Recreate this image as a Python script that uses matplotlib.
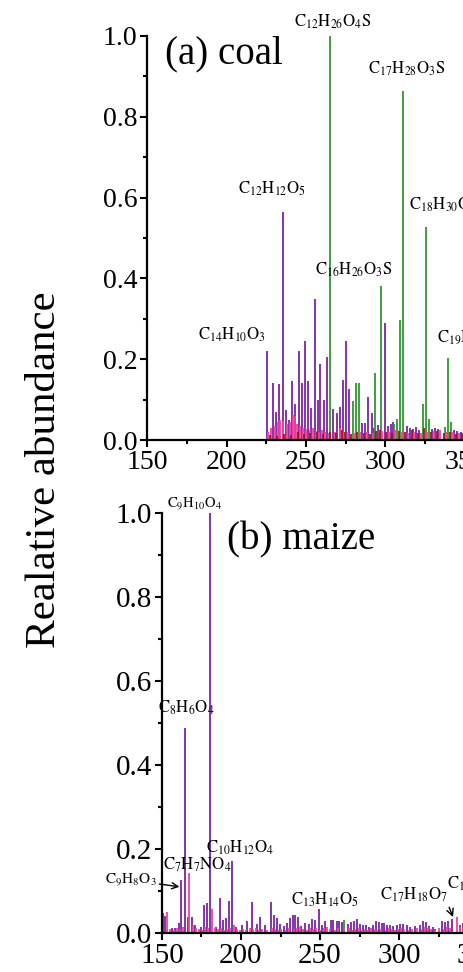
import matplotlib
matplotlib.use("Agg")
import matplotlib.pyplot as plt
from matplotlib.ticker import MultipleLocator

plt.rcParams["font.family"] = ["Liberation Serif", "DejaVu Serif"]
plt.rcParams["mathtext.fontset"] = "stix"

# ---- data: (a) coal ----
coal_purple_mz = [225.3, 229.2, 231.0, 233.2, 235.5, 237.2, 239.3, 241.2, 243.0, 245.4,
                  247.3, 249.2, 251.0, 253.1, 255.5, 257.4, 259.0, 261.1, 263.2, 267.2,
                  269.3, 271.1, 273.0, 275.2, 277.2, 285.2, 287.1, 289.2, 291.3, 293.0,
                  295.3, 299.4, 301.4, 303.5, 305.0, 313.4, 315.5, 317.6, 319.3, 321.3,
                  329.0, 331.1, 333.2, 343.3, 345.2, 347.3]
coal_purple_ab = [0.221, 0.140, 0.070, 0.138, 0.565, 0.074, 0.050, 0.146, 0.090, 0.220,
                  0.140, 0.246, 0.146, 0.078, 0.350, 0.100, 0.187, 0.100, 0.206, 0.076,
                  0.066, 0.082, 0.148, 0.245, 0.127, 0.043, 0.043, 0.106, 0.066, 0.030,
                  0.037, 0.289, 0.035, 0.040, 0.045, 0.034, 0.030, 0.028, 0.032, 0.025,
                  0.028, 0.030, 0.028, 0.025, 0.022, 0.020]

coal_green_mz = [265.3, 279.3, 281.2, 283.1, 293.4, 297.4, 305.2, 307.0, 309.2, 311.2,
                 323.4, 325.3, 327.2, 337.4, 339.2, 341.2]
coal_green_ab = [1.000, 0.097, 0.140, 0.140, 0.167, 0.382, 0.040, 0.052, 0.298, 0.863,
                 0.090, 0.528, 0.051, 0.033, 0.202, 0.045]

coal_pink_mz = [226.0, 228.0, 230.2, 232.1, 233.6, 235.7, 238.0, 240.1, 242.0, 243.1,
                244.3, 246.2, 248.3, 250.2, 252.3, 254.6, 256.5, 258.0, 259.9, 262.1,
                264.2, 268.3, 271.4, 273.3, 276.2, 280.3, 284.2, 288.1, 292.2, 298.0,
                302.2, 306.1, 310.2, 314.3, 318.2, 322.4, 326.1, 330.3, 334.2, 338.1,
                342.3, 346.2]
coal_pink_ab = [0.020, 0.030, 0.035, 0.045, 0.050, 0.048, 0.040, 0.045, 0.062, 0.060,
                0.040, 0.035, 0.030, 0.028, 0.025, 0.030, 0.022, 0.020, 0.025, 0.020,
                0.018, 0.020, 0.030, 0.025, 0.020, 0.018, 0.020, 0.020, 0.018, 0.022,
                0.020, 0.025, 0.020, 0.018, 0.020, 0.018, 0.020, 0.022, 0.025, 0.020,
                0.020, 0.018]

coal_red_mz = [227.1, 231.9, 236.4, 240.6, 244.8, 248.9, 252.7, 256.9, 260.4, 264.8,
               268.9, 272.5, 274.4, 278.2, 282.3, 286.4, 290.5, 294.3, 296.6, 300.5,
               304.3, 308.4, 312.5, 316.6, 320.4, 324.4, 328.5, 332.4, 336.5, 340.4,
               344.5, 348.4]
coal_red_ab = [0.012, 0.010, 0.015, 0.012, 0.020, 0.015, 0.018, 0.020, 0.015, 0.020,
               0.018, 0.025, 0.020, 0.015, 0.020, 0.018, 0.015, 0.022, 0.025, 0.020,
               0.018, 0.022, 0.020, 0.025, 0.018, 0.030, 0.020, 0.022, 0.018, 0.020,
               0.015, 0.018]

# ---- data: (b) maize ----
maize_purple_mz = [150.4, 151.9, 156.5, 158.2, 160.5, 162.2, 164.6, 166.6, 168.8, 170.9,
                   174.5, 176.6, 178.3, 180.4, 184.2, 186.5, 188.4, 190.5, 192.6, 194.5,
                   196.8, 200.8, 204.0, 207.0, 209.9, 212.0, 215.0, 218.8, 220.9, 222.6,
                   224.7, 227.2, 228.9, 231.0, 232.7, 234.4, 236.1, 238.2, 240.7, 242.8,
                   244.9, 246.6, 249.2, 251.1, 253.2, 257.0, 258.4, 260.5, 262.2, 263.7,
                   267.5, 269.4, 271.5, 273.2, 275.3, 277.0, 279.1, 281.2, 283.8, 285.2,
                   287.1, 289.0, 290.7, 292.6, 294.3, 296.4, 298.5, 300.6, 302.7, 304.9,
                   307.0, 310.1, 313.3, 315.4, 317.1, 319.2, 321.3, 323.0, 327.0, 329.1,
                   331.2, 333.3, 338.6, 340.7, 342.6, 344.7, 346.6, 348.7]
maize_purple_ab = [0.047, 0.040, 0.012, 0.012, 0.023, 0.126, 0.487, 0.039, 0.038, 0.020,
                   0.015, 0.067, 0.071, 1.000, 0.015, 0.083, 0.030, 0.036, 0.077, 0.171,
                   0.015, 0.018, 0.029, 0.074, 0.022, 0.038, 0.018, 0.074, 0.042, 0.036,
                   0.022, 0.016, 0.024, 0.036, 0.042, 0.044, 0.038, 0.016, 0.024, 0.021,
                   0.034, 0.030, 0.056, 0.018, 0.029, 0.032, 0.030, 0.029, 0.028, 0.026,
                   0.021, 0.026, 0.029, 0.034, 0.021, 0.018, 0.018, 0.014, 0.018, 0.028,
                   0.026, 0.024, 0.024, 0.018, 0.018, 0.016, 0.018, 0.021, 0.022, 0.018,
                   0.014, 0.016, 0.018, 0.029, 0.026, 0.016, 0.014, 0.010, 0.029, 0.026,
                   0.029, 0.034, 0.020, 0.025, 0.018, 0.022, 0.015, 0.018]

maize_pink_mz = [153.4, 155.2, 157.3, 159.4, 161.3, 163.3, 167.3, 169.4, 171.5, 173.3,
                 175.4, 177.4, 179.3, 181.5, 183.4, 185.3, 187.4, 189.3, 191.4, 193.3,
                 195.5, 197.4, 199.3, 201.5, 203.4, 205.5, 207.4, 209.3, 211.4, 213.5,
                 216.3, 219.4, 221.5, 223.4, 225.5, 228.3, 230.4, 233.5, 235.3, 237.5,
                 239.4, 241.6, 243.5, 245.4, 247.5, 250.3, 252.4, 254.5, 256.3, 259.4,
                 261.5, 265.3, 268.4, 270.5, 272.4, 274.5, 276.3, 278.4, 280.5, 282.4,
                 284.5, 286.3, 288.4, 291.5, 293.4, 295.5, 297.4, 299.5, 301.5, 303.4,
                 306.3, 308.4, 311.5, 314.4, 316.5, 318.3, 320.4, 322.5, 325.4, 328.3,
                 330.4, 332.5, 336.5, 338.4, 340.5, 342.4, 344.5, 346.4, 348.5]
maize_pink_ab = [0.049, 0.010, 0.008, 0.012, 0.010, 0.015, 0.144, 0.020, 0.012, 0.010,
                 0.008, 0.015, 0.012, 0.057, 0.012, 0.010, 0.012, 0.008, 0.010, 0.012,
                 0.020, 0.010, 0.008, 0.010, 0.008, 0.012, 0.010, 0.012, 0.008, 0.010,
                 0.008, 0.012, 0.010, 0.008, 0.010, 0.008, 0.012, 0.010, 0.012, 0.015,
                 0.010, 0.008, 0.012, 0.010, 0.012, 0.008, 0.012, 0.015, 0.010, 0.008,
                 0.012, 0.010, 0.012, 0.008, 0.010, 0.012, 0.008, 0.010, 0.008, 0.012,
                 0.010, 0.008, 0.010, 0.008, 0.012, 0.010, 0.008, 0.010, 0.012, 0.010,
                 0.008, 0.010, 0.012, 0.010, 0.015, 0.012, 0.010, 0.008, 0.012, 0.010,
                 0.015, 0.012, 0.038, 0.015, 0.012, 0.010, 0.012, 0.010, 0.008]

maize_green_mz = [187.0, 265.0]
maize_green_ab = [0.010, 0.030]

PURPLE = "#7d22a6"
GREEN = "#2f962f"
PINK = "#f0409c"
DARKRED = "#9a1a14"
LW = 1.3

fig = plt.figure(figsize=(4.64, 9.72), dpi=100)
# axes run past the right edge of the figure (the reference is a crop)
ax1 = fig.add_axes([147 / 464, 1 - 440 / 972, 250 * 1.59 / 464, 404 / 972])
ax2 = fig.add_axes([162 / 464, 1 - 933 / 972, 250 * 1.58 / 464, 420 / 972])

ax1.vlines(coal_purple_mz, 0, coal_purple_ab, color=PURPLE, lw=LW)
ax1.vlines(coal_green_mz, 0, coal_green_ab, color=GREEN, lw=LW)
ax1.vlines(coal_pink_mz, 0, coal_pink_ab, color=PINK, lw=LW)
ax1.vlines(coal_red_mz, 0, coal_red_ab, color=DARKRED, lw=LW)

ax2.vlines(maize_purple_mz, 0, maize_purple_ab, color=PURPLE, lw=LW)
ax2.vlines(maize_green_mz, 0, maize_green_ab, color=GREEN, lw=LW)
ax2.vlines(maize_pink_mz, 0, maize_pink_ab, color=PINK, lw=LW)

for ax, fs in [(ax1, 20), (ax2, 21)]:
    ax.set_xlim(150, 400)
    ax.set_ylim(0, 1.0)
    ax.spines["top"].set_visible(False)
    ax.spines["right"].set_visible(False)
    ax.spines["left"].set_linewidth(1.6)
    ax.spines["bottom"].set_linewidth(1.6)
    ax.patch.set_alpha(0)
    ax.xaxis.set_major_locator(MultipleLocator(50))
    ax.xaxis.set_minor_locator(MultipleLocator(25))
    ax.yaxis.set_major_locator(MultipleLocator(0.2))
    ax.yaxis.set_minor_locator(MultipleLocator(0.1))
    ax.yaxis.set_major_formatter(lambda v, p: f"{v:.1f}")
    ax.tick_params(which="major", length=5, width=1.5, labelsize=fs, pad=2)
    ax.tick_params(which="minor", length=3, width=1.5)

# labels, panel (a)
lab = dict(fontsize=12, ha="center", va="center")
ax1.text(267.0, 1.035, r"$\mathrm{C_{12}H_{26}O_4S}$", **lab)
ax1.text(313.5, 0.918, r"$\mathrm{C_{17}H_{28}O_3S}$", **lab)
ax1.text(228.6, 0.621, r"$\mathrm{C_{12}H_{12}O_5}$", **lab)
ax1.text(314.8, 0.582, r"$\mathrm{C_{18}H_{30}O_3S}$", fontsize=12, ha="left", va="center")
ax1.text(280.2, 0.421, r"$\mathrm{C_{16}H_{26}O_3S}$", **lab)
ax1.text(203.5, 0.260, r"$\mathrm{C_{14}H_{10}O_3}$", **lab)
ax1.text(332.4, 0.252, r"$\mathrm{C_{19}H_{32}O_3S}$", fontsize=12, ha="left", va="center")
ax1.text(161.3, 0.955, "(a) coal", fontsize=28, ha="left", va="center")

# labels, panel (b)
ax2.text(170.9, 1.021, r"$\mathrm{C_9H_{10}O_4}$", fontsize=10.5, ha="center", va="center")
ax2.text(165.2, 0.536, r"$\mathrm{C_8H_6O_4}$", **lab)
ax2.text(199.4, 0.202, r"$\mathrm{C_{10}H_{12}O_4}$", **lab)
ax2.text(172.2, 0.162, r"$\mathrm{C_7H_7NO_4}$", **lab)
ax2.text(253.2, 0.079, r"$\mathrm{C_{13}H_{14}O_5}$", **lab)
ax2.text(330.4, 0.117, r"$\mathrm{C_{18}H_{20}O_8}$", fontsize=12, ha="left", va="center")
ax2.annotate(r"$\mathrm{C_9H_8O_3}$", xy=(161.0, 0.110), xytext=(146.5, 0.126),
             fontsize=11, ha="right", va="center", annotation_clip=False,
             arrowprops=dict(arrowstyle="->", lw=1.0, color="black", shrinkA=0, shrinkB=0))
ax2.annotate(r"$\mathrm{C_{17}H_{18}O_7}$", xy=(334.2, 0.038), xytext=(309.5, 0.090),
             fontsize=12, ha="center", va="center",
             arrowprops=dict(arrowstyle="->", lw=1.0, color="black",
                             shrinkA=0, shrinkB=0, relpos=(1.0, 0.0)))
ax2.text(191.0, 0.935, "(b) maize", fontsize=28, ha="left", va="center")

fig.text(45 / 464, 1 - 470 / 972, "Realative abundance", rotation=90,
         fontsize=31, ha="center", va="center")

fig.savefig("out.png", dpi=100)
